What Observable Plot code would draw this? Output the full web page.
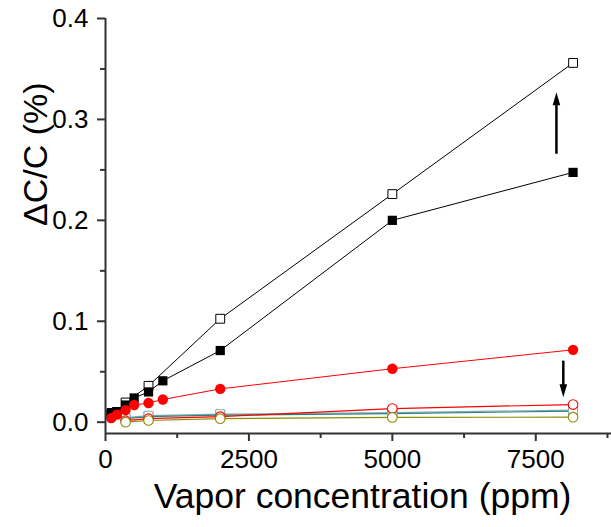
<!DOCTYPE html>
<html>
<head>
<meta charset="utf-8">
<script src="https://cdn.jsdelivr.net/npm/d3@7"></script>
<script src="https://cdn.jsdelivr.net/npm/@observablehq/plot@0.6"></script>
<style>
  html, body { margin: 0; padding: 0; background: white; }
  #chart { width: 611px; height: 527px; }
</style>
</head>
<body>
<div id="chart"></div>
<script>
// ---- data ----
const xMain = [100, 200, 350, 500, 750, 1000, 2000, 5000, 8150];
const filledSquare = [0.0095, 0.0105, 0.017, 0.024, 0.030, 0.041, 0.071, 0.200, 0.2475];
const redFilled = [0.004, 0.0075, 0.012, 0.017, 0.019, 0.0225, 0.033, 0.053, 0.0717];

const xOpenSquare = [100, 200, 350, 750, 2000, 5000, 8150];
const openSquare = [0.008, 0.010, 0.0195, 0.036, 0.1025, 0.226, 0.356];

const xLow = [350, 750, 2000, 5000, 8150];
const tealLight = [0.0045, 0.0065, 0.008, 0.0095, 0.012];
const tealDark = [0.0035, 0.0055, 0.007, 0.0085, 0.011];
const redOpen = [0.0015, 0.0035, 0.0055, 0.0135, 0.0175];
const olive = [0.000, 0.0017, 0.0035, 0.0047, 0.005];

const xMajorTicks = [0, 2500, 5000, 7500];
const xMinorTicks = [1250, 3750, 6250, 8750];
const yMajorTicks = [0, 0.1, 0.2, 0.3, 0.4];
const yMinorTicks = [0.05, 0.15, 0.25, 0.35];

const arrowX = [7860, 7980];
const arrowFrom = [0.266, 0.061];
const arrowTo = [0.327, 0.0248];
const arrowRotate = [0, 180];

const xLabel = "Vapor concentration (ppm)";
const yLabel = "ΔC/C (%)";

// ---- build tables ----
const rows = (xs, ys) => xs.map((x, i) => ({x, y: ys[i]}));
const sFilledSq = rows(xMain, filledSquare);
const sRedFilled = rows(xMain, redFilled);
const sOpenSq = rows(xOpenSquare, openSquare);
const sTealL = rows(xLow, tealLight);
const sTealD = rows(xLow, tealDark);
const sRedOpen = rows(xLow, redOpen);
const sOlive = rows(xLow, olive);
const arrows = arrowX.map((x, i) => ({
  x, y1: arrowFrom[i],
  y2: arrowTo[i] + (arrowTo[i] > arrowFrom[i] ? -0.006 : 0.006),
  tip: arrowTo[i], rot: arrowRotate[i]
}));

const headSymbol = {
  draw(ctx) {
    ctx.moveTo(0, 0);
    ctx.lineTo(3.8, 13);
    ctx.lineTo(-3.8, 13);
    ctx.closePath();
  }
};

const axisColor = "#333";
const teal1 = "#86aeb5", teal2 = "#2c807c", oliveC = "#8c8a00", red = "#ff0000";

const chart = Plot.plot({
  width: 611,
  height: 527,
  marginLeft: 105,
  marginRight: 0,
  marginTop: 18,
  marginBottom: 94,
  x: {domain: [0, 8820], axis: null},
  y: {domain: [-0.0112, 0.4], axis: null},
  style: {fontFamily: "Liberation Sans, Arial, sans-serif", background: "white", color: "black", overflow: "visible"},
  marks: [
    // low series
    Plot.line(sTealL, {x: "x", y: "y", stroke: teal1, strokeWidth: 1.2}),
    Plot.line(sTealD, {x: "x", y: "y", stroke: teal2, strokeWidth: 1.2}),
    Plot.dot(sTealD, {x: "x", y: "y", symbol: "square", r: 5, stroke: teal2, fill: "white", strokeWidth: 1}),
    Plot.dot(sTealL, {x: "x", y: "y", symbol: "square", r: 5, stroke: teal1, fill: "white", strokeWidth: 1}),
    Plot.line(sRedOpen, {x: "x", y: "y", stroke: red, strokeWidth: 1.2}),
    Plot.dot(sRedOpen, {x: "x", y: "y", symbol: "circle", r: 4.8, stroke: red, fill: "white", strokeWidth: 1.1}),
    Plot.line(sOlive, {x: "x", y: "y", stroke: oliveC, strokeWidth: 1.2}),
    Plot.dot(sOlive, {x: "x", y: "y", symbol: "circle", r: 4.8, stroke: oliveC, fill: "white", strokeWidth: 1.1}),
    // black series
    Plot.line(sOpenSq, {x: "x", y: "y", stroke: "black", strokeWidth: 1}),
    Plot.dot(sOpenSq, {x: "x", y: "y", symbol: "square", r: 5, stroke: "black", fill: "white", strokeWidth: 1}),
    Plot.line(sFilledSq, {x: "x", y: "y", stroke: "black", strokeWidth: 1}),
    Plot.dot(sFilledSq, {x: "x", y: "y", symbol: "square", r: 5.2, fill: "black"}),
    // red filled
    Plot.line(sRedFilled, {x: "x", y: "y", stroke: red, strokeWidth: 1}),
    Plot.dot(sRedFilled, {x: "x", y: "y", symbol: "circle", r: 5.2, fill: red}),
    // arrows
    Plot.link(arrows, {x1: "x", x2: "x", y1: "y1", y2: "y2", stroke: "black", strokeWidth: 2.5}),
    Plot.dot(arrows, {x: "x", y: "tip", symbol: headSymbol, rotate: "rot", fill: "black", r: 5}),
    // axes
    Plot.ruleX([0], {stroke: axisColor, strokeWidth: 2}),
    Plot.ruleY([-0.0112], {stroke: axisColor, strokeWidth: 2}),
    Plot.axisX({ticks: xMajorTicks, tickSize: 8, tickPadding: 8, fontSize: 26, stroke: axisColor, strokeWidth: 2, label: null, tickFormat: d3.format("d")}),
    Plot.axisX({ticks: xMinorTicks, tickSize: 5, stroke: axisColor, strokeWidth: 2, label: null, tickFormat: () => ""}),
    Plot.axisY({ticks: yMajorTicks, tickSize: 8, tickPadding: 9, fontSize: 26, stroke: axisColor, strokeWidth: 2, label: null, tickFormat: d3.format(".1f")}),
    Plot.axisY({ticks: yMinorTicks, tickSize: 5, stroke: axisColor, strokeWidth: 2, label: null, tickFormat: () => ""}),
    // titles
    Plot.text([xLabel], {frameAnchor: "bottom", dy: 74, dx: 4, fontSize: 35.5, fill: "black"}),
    Plot.text([yLabel], {frameAnchor: "left", rotate: -90, dx: -69, fontSize: 34, fill: "black"})
  ]
});
document.getElementById("chart").appendChild(chart);
</script>
</body>
</html>
